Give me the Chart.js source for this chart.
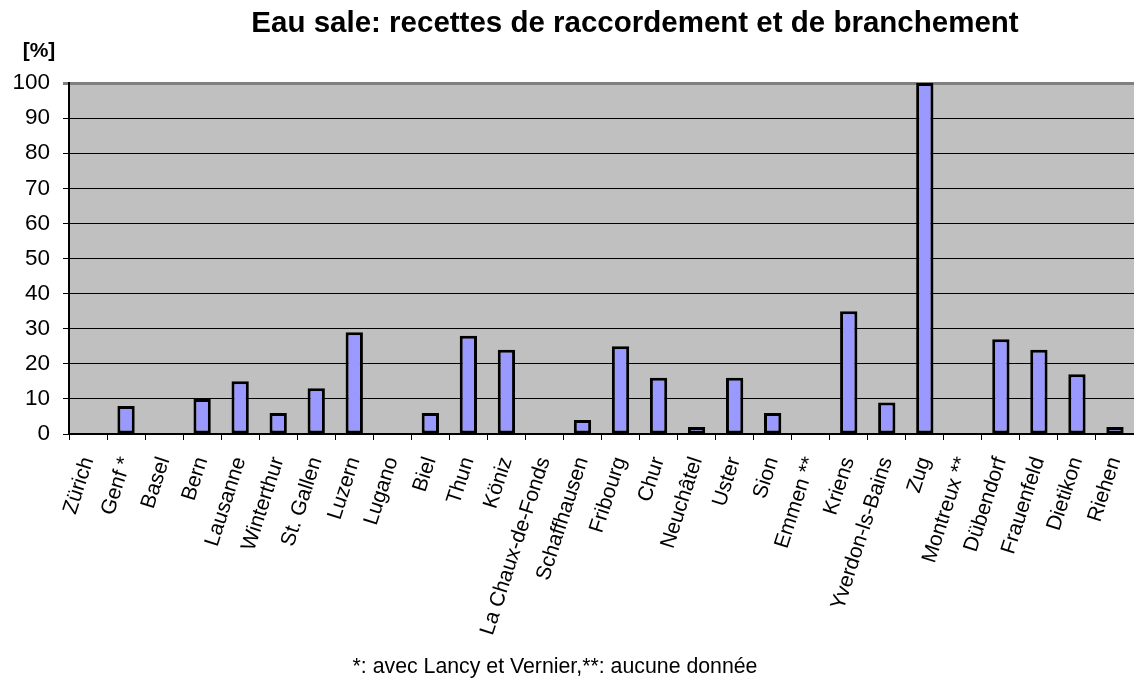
<!DOCTYPE html>
<html>
<head>
<meta charset="utf-8">
<title>Eau sale: recettes de raccordement et de branchement</title>
<script src="https://cdn.jsdelivr.net/npm/chart.js@4/dist/chart.umd.min.js"></script>
<style>
	html, body { margin: 0; padding: 0; background: #fff; }
	#wrap { width: 1134px; height: 678px; }
</style>
</head>
<body>
<div id="wrap"><canvas id="chart" width="1134" height="678"></canvas></div>
<script>
const cities = [
	"Zürich", "Genf *", "Basel", "Bern", "Lausanne", "Winterthur", "St. Gallen",
	"Luzern", "Lugano", "Biel", "Thun", "Köniz", "La Chaux-de-Fonds", "Schaffhausen",
	"Fribourg", "Chur", "Neuchâtel", "Uster", "Sion", "Emmen **", "Kriens",
	"Yverdon-ls-Bains", "Zug", "Montreux **", "Dübendorf", "Frauenfeld", "Dietikon", "Riehen",
];
const shares = [0, 8, 0, 10, 15, 6, 13, 29, 0, 6, 28, 24, 0, 4, 25, 16, 2, 16, 6, 0, 35, 9, 100, 0, 27, 24, 17, 2];
const yTicks = [0, 10, 20, 30, 40, 50, 60, 70, 80, 90, 100];

const titleText = "Eau sale: recettes de raccordement et de branchement";
const unitText = "[%]";
const noteText = "*: avec Lancy et Vernier,**: aucune donnée";

const font = "Arial, 'Liberation Sans', sans-serif";

// fond gris de la zone de tracé + textes fixes
const decor = {
	id: "decor",
	beforeDraw(chart) {
		const { ctx, chartArea: a } = chart;
		ctx.save();
		ctx.fillStyle = "#c0c0c0";
		ctx.fillRect(a.left, a.top, a.right - a.left, a.bottom - a.top);
		ctx.restore();
	},
	afterDraw(chart) {
		const ctx = chart.ctx;
		ctx.save();
		ctx.fillStyle = "#000";
		ctx.textAlign = "center";
		ctx.textBaseline = "alphabetic";
		ctx.font = `bold 29.5px ${font}`;
		ctx.fillText(titleText, 635, 32);
		ctx.font = `bold 21px ${font}`;
		ctx.fillText(unitText, 39, 57);
		ctx.font = `21.3px ${font}`;
		ctx.fillText(noteText, 555, 673);
		ctx.restore();
	},
};

new Chart(document.getElementById("chart"), {
	type: "bar",
	data: {
		labels: cities,
		datasets: [
			{
				data: shares,
				backgroundColor: "#9999ff",
				borderColor: "#000",
				borderWidth: 3,
				borderSkipped: false,
				categoryPercentage: 0.455,
				barPercentage: 1,
			},
		],
	},
	options: {
		responsive: false,
		animation: false,
		layout: { padding: { top: 83, right: 0, left: 0, bottom: 0 } },
		plugins: {
			legend: { display: false },
			title: { display: false },
			tooltip: { enabled: false },
		},
		scales: {
			x: {
				grid: {
					offset: true,
					drawOnChartArea: false,
					drawTicks: true,
					tickLength: 6,
					color: "#000",
					lineWidth: 1,
				},
				border: { display: true, color: "#000", width: 2 },
				ticks: {
					autoSkip: false,
					minRotation: 72,
					maxRotation: 72,
					padding: 14,
					color: "#000",
					font: { family: font, size: 21 },
				},
				afterFit(scale) {
					scale.height = 244;
					scale.paddingLeft = 0;
					scale.paddingRight = 0;
				},
			},
			y: {
				min: 0,
				max: 100,
				afterBuildTicks(scale) {
					scale.ticks = yTicks.map(v => ({ value: v }));
				},
				grid: {
					color: ctx => (ctx.tick && ctx.tick.value === 100 ? "#808080" : "#000"),
					lineWidth: ctx => (ctx.tick && ctx.tick.value === 100 ? 3 : 1),
					tickLength: 6,
				},
				border: { display: true, color: "#000", width: 2 },
				ticks: {
					padding: 13,
					color: "#000",
					font: { family: font, size: 22.5 },
				},
				afterFit(scale) {
					scale.width = 69;
					scale.paddingTop = 0;
					scale.paddingBottom = 0;
				},
			},
		},
	},
	plugins: [decor],
});
</script>
</body>
</html>
